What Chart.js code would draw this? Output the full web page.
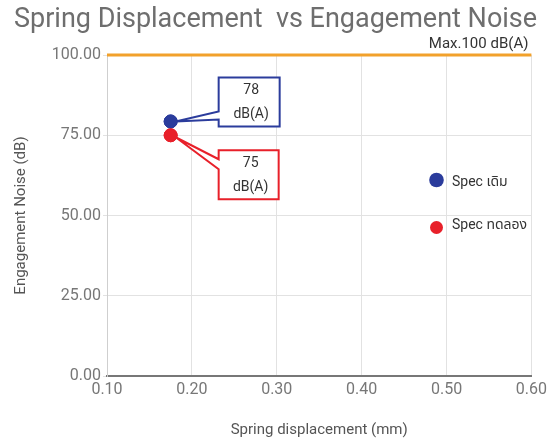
<!DOCTYPE html>
<html>
<head>
<meta charset="utf-8">
<script src="https://cdn.jsdelivr.net/npm/chart.js@4.4.0/dist/chart.umd.min.js"></script>
<style>
html,body{margin:0;padding:0;background:#fff;}
#wrap{width:551px;height:444px;}
</style>
</head>
<body>
<div id="wrap"><canvas id="c" width="551" height="444"></canvas></div>
<script>
// ---- data ----
const chartTitle = 'Spring Displacement  vs Engagement Noise';
const seriesNames = ['Spec เดิม', 'Spec ทดลอง'];
const displacement = [0.175, 0.175];       // mm
const noise = [79.3, 75];                  // dB
const calloutValues = ['78', '75'];
const calloutUnit = 'dB(A)';
const maxLimitX = [0.1, 0.6];
const maxLimitY = [100, 100];
const maxLabel = 'Max.100 dB(A)';
const xTicks = [0.1, 0.2, 0.3, 0.4, 0.5, 0.6];
const yTicks = [0, 25, 50, 75, 100];

const colors = ['#2b3c9c', '#e8202a'];
const FONT = 'Roboto, "Noto Sans Thai", "Noto Sans", sans-serif';

const datasets = [
  {
    label: maxLabel,
    data: maxLimitX.map((x, i) => ({x, y: maxLimitY[i]})),
    showLine: true,
    borderColor: '#f2a12b',
    backgroundColor: '#f2a12b',
    borderWidth: 3,
    pointRadius: 0,
    clip: 6
  }
];
seriesNames.forEach((n, i) => {
  datasets.push({
    label: n,
    data: [{x: displacement[i], y: noise[i]}],
    backgroundColor: colors[i],
    borderColor: colors[i],
    pointRadius: 6.5,
    pointHoverRadius: 6.5,
    clip: false
  });
});

// title, callout boxes, legend, max label
const annot = {
  id: 'annot',
  afterDraw(chart) {
    const ctx = chart.ctx;
    ctx.save();
    ctx.font = '27px ' + FONT;
    ctx.fillStyle = '#6e6e6e';
    ctx.textAlign = 'left';
    ctx.textBaseline = 'middle';
    ctx.fillText(chartTitle, 14, 20);
    ctx.restore();
  },
  afterDatasetsDraw(chart) {
    const ctx = chart.ctx;
    const ys = chart.scales.y;
    const area = chart.chartArea;
    // Max label
    ctx.save();
    ctx.font = '15px ' + FONT;
    ctx.fillStyle = '#333';
    ctx.textAlign = 'right';
    ctx.textBaseline = 'middle';
    ctx.fillText(maxLabel, area.right - 3, ys.getPixelForValue(100) - 11);
    ctx.restore();

    // callouts
    const boxCfg = [
      {dx: 48, dy: -44, w: 61, h: 49, n1: 34, n2: 42},
      {dx: 48, dy: 15, w: 60, h: 49, n1: 9, n2: 19}
    ];
    seriesNames.forEach((n, i) => {
      const meta = chart.getDatasetMeta(i + 1);
      const p = meta.data[0];
      const c = boxCfg[i];
      const L = p.x + c.dx, T = p.y + c.dy, R = L + c.w, B = T + c.h;
      const tipX = p.x + 5, tipY = p.y + (i === 0 ? 0 : 2);
      ctx.save();
      ctx.beginPath();
      ctx.moveTo(L, T);
      ctx.lineTo(R, T);
      ctx.lineTo(R, B);
      ctx.lineTo(L, B);
      ctx.lineTo(L, T + c.n2);
      ctx.lineTo(tipX, tipY);
      ctx.lineTo(L, T + c.n1);
      ctx.closePath();
      ctx.fillStyle = '#fff';
      ctx.fill();
      ctx.lineWidth = 2;
      ctx.strokeStyle = colors[i];
      ctx.lineJoin = 'miter';
      ctx.stroke();
      ctx.fillStyle = '#333';
      ctx.font = '14px ' + FONT;
      ctx.textAlign = 'center';
      ctx.textBaseline = 'middle';
      const cx = (L + R) / 2 + 2;
      ctx.fillText(calloutValues[i], cx, T + 13);
      ctx.fillText(calloutUnit, cx, T + 37);
      ctx.restore();
      // redraw point on top
      p.draw(ctx, area);
    });

    // legend
    const legY = [180, 227.5];
    const legR = [7.3, 6.5];
    seriesNames.forEach((n, i) => {
      ctx.save();
      ctx.beginPath();
      ctx.arc(436.5, legY[i], legR[i], 0, Math.PI * 2);
      ctx.fillStyle = colors[i];
      ctx.fill();
      ctx.font = '14px ' + FONT;
      ctx.fillStyle = '#333';
      ctx.textAlign = 'left';
      ctx.textBaseline = 'middle';
      ctx.fillText(n, 452, legY[i] + (i === 0 ? 2 : -2));
      ctx.restore();
    });
  }
};

new Chart(document.getElementById('c'), {
  type: 'scatter',
  data: { datasets },
  options: {
    responsive: false,
    animation: false,
    devicePixelRatio: 1,
    layout: { padding: { left: 0, right: 17, top: 55, bottom: 0 } },
    plugins: {
      legend: { display: false },
      tooltip: { enabled: false },
      title: { display: false }
    },
    scales: {
      x: {
        type: 'linear',
        min: xTicks[0],
        max: xTicks[xTicks.length - 1],
        afterBuildTicks: s => { s.ticks = xTicks.map(v => ({value: v})); },
        afterFit: s => { s.height = 68; },
        ticks: {
          callback: v => Number(v).toFixed(2),
          color: '#777',
          font: { family: FONT, size: 16 },
          padding: 4,
          maxRotation: 0
        },
        grid: { color: '#e2e2e2', lineWidth: 1, drawTicks: false },
        border: { color: '#777', width: 2 },
        title: {
          display: true,
          text: 'Spring displacement (mm)',
          color: '#555',
          font: { family: FONT, size: 15 },
          padding: { top: 0, bottom: 5 }
        }
      },
      y: {
        type: 'linear',
        min: yTicks[0],
        max: yTicks[yTicks.length - 1],
        afterBuildTicks: s => { s.ticks = yTicks.map(v => ({value: v})); },
        afterFit: s => { s.width = 107; },
        ticks: {
          callback: v => Number(v).toFixed(2),
          color: '#777',
          font: { family: FONT, size: 16 },
          padding: 2
        },
        grid: { color: '#e2e2e2', lineWidth: 1, tickLength: 4 },
        border: { color: '#cfcfcf', width: 1 },
        title: {
          display: true,
          text: 'Engagement Noise (dB)',
          color: '#555',
          font: { family: FONT, size: 15 },
          padding: { top: 12, bottom: 0 }
        }
      }
    }
  },
  plugins: [annot]
});
</script>
</body>
</html>
